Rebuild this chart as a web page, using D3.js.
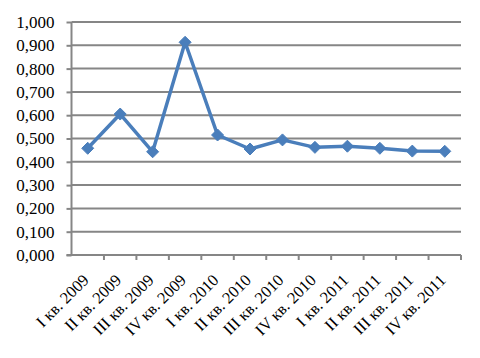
<!DOCTYPE html>
<html><head><meta charset="utf-8">
<script src="https://cdn.jsdelivr.net/npm/d3@7"></script>
<style>html,body{margin:0;padding:0;background:#fff;}</style>
</head><body>
<svg id="c" width="480" height="358"></svg>
<script>
const categories = ["I кв. 2009","II кв. 2009","III кв. 2009","IV кв. 2009","I кв. 2010","II кв. 2010","III кв. 2010","IV кв. 2010","I кв. 2011","II кв. 2011","III кв. 2011","IV кв. 2011"];
const values = [0.458,0.605,0.443,0.913,0.515,0.455,0.494,0.462,0.467,0.458,0.446,0.445];
const yTicks = [0,0.1,0.2,0.3,0.4,0.5,0.6,0.7,0.8,0.9,1.0];

const svg = d3.select("#c");
const L = 71.5, R = 461, T = 22, B = 255;
const x = d3.scaleBand().domain(categories).range([L, R]);
const y = d3.scaleLinear().domain([0, 1]).range([B, T]);
const grey = "#868686";
const font = "'Liberation Serif','Times New Roman',serif";
const fmt = v => d3.format(".3f")(v).replace(".", ",");

// gridlines
svg.append("g").selectAll("line").data(yTicks.filter(d => d > 0)).join("line")
  .attr("x1", L).attr("x2", R).attr("y1", d => y(d)).attr("y2", d => y(d))
  .attr("stroke", grey).attr("stroke-width", 2);

// y axis
const yAxis = d3.axisLeft(y).tickValues(yTicks).tickFormat(fmt).tickSize(5).tickPadding(12);
const gy = svg.append("g").attr("transform", `translate(${L},0)`).call(yAxis);
gy.select(".domain").attr("stroke", grey).attr("stroke-width", 2).attr("d", `M0,${T}V${B}`);
gy.selectAll(".tick line").attr("stroke", grey).attr("stroke-width", 2);
gy.selectAll("text").attr("font-family", font).attr("font-size", 17).attr("fill", "#000");

// x axis
const xTickPos = categories.map((c, i) => x(c) + x.bandwidth()).slice(0, -1);
const gx = svg.append("g").attr("transform", `translate(0,${B})`);
gx.append("line").attr("x1", L - 5).attr("x2", R).attr("y1", 0).attr("y2", 0)
  .attr("stroke", grey).attr("stroke-width", 2);
gx.selectAll("line.t").data([...xTickPos, R]).join("line").attr("class", "t")
  .attr("x1", d => d).attr("x2", d => d).attr("y1", 0).attr("y2", 5)
  .attr("stroke", grey).attr("stroke-width", 2);
gx.selectAll("text").data(categories).join("text")
  .attr("transform", d => `translate(${x(d) + x.bandwidth() / 2 - 2},${22}) rotate(-45)`)
  .attr("text-anchor", "end").attr("dy", "0.35em")
  .attr("font-family", font).attr("font-size", 16.5).attr("fill", "#000")
  .text(d => d);

// line
const line = d3.line().x((d, i) => x(categories[i]) + x.bandwidth() / 2).y(d => y(d));
svg.append("path").datum(values).attr("d", line)
  .attr("fill", "none").attr("stroke", "#4a7ebb").attr("stroke-width", 3.5).attr("stroke-linejoin", "round");

// markers
svg.append("g").selectAll("path").data(values).join("path")
  .attr("transform", (d, i) => `translate(${x(categories[i]) + x.bandwidth() / 2},${y(d)})`)
  .attr("d", "M0,-6L6,0L0,6L-6,0Z")
  .attr("fill", "#4a7ebb").attr("stroke", "#4a7ebb").attr("stroke-width", 1);
</script>
</body></html>
